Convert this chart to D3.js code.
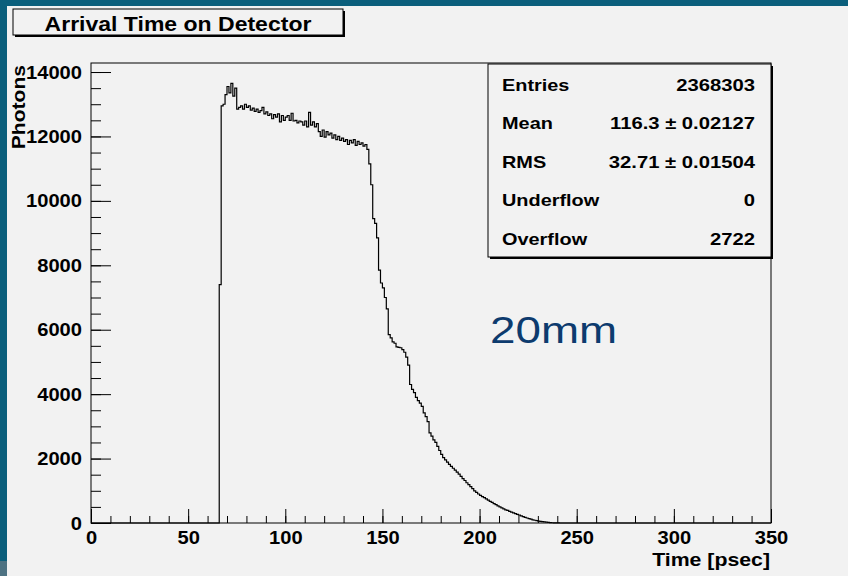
<!DOCTYPE html>
<html>
<head>
<meta charset="utf-8">
<script src="https://cdn.jsdelivr.net/npm/d3@7/dist/d3.min.js"></script>
<style>
  body { margin: 0; background: #0b5f7c; }
  svg { display: block; }
</style>
</head>
<body>
<svg id="chart" width="848" height="576"></svg>
<script>
// histogram contents, 1 psec bins (bins before firstBin are empty)
var firstBin = 66;
var counts = [
  7400, 12950, 13000, 13300, 13550, 13350, 13650, 13250, 13500, 12850,
  12900, 12950, 12850, 13000, 12900, 12950, 12820, 12880, 12780, 12850,
  12750, 12800, 12900, 12700, 12760, 12650, 12700, 12550, 12680, 12600,
  12700, 12450, 12650, 12500, 12600, 12650, 12500, 12720, 12480, 12500,
  12420, 12480, 12450, 12350, 12480, 12300, 12750, 12350, 12450, 12300,
  12400, 12150, 12000, 12200, 11980, 12150, 12050, 12100, 11950, 12050,
  11900, 12000, 11880, 11950, 11850, 11900, 11750, 11880, 11800, 11900,
  11720, 11850, 11750, 11800, 11700, 11750, 11600,
  11150, 10500, 9450, 9300, 8850, 7850, 7450, 7300, 7000, 6650,
  5850, 5750, 5620, 5580, 5470, 5450, 5440, 5380, 5300, 5150,
  4900, 4300, 4150, 4050, 3900, 3800, 3720, 3620, 3420, 3300,
  3150, 2800, 2700, 2580, 2500, 2380, 2250, 2130, 2030, 1960,
  1890, 1820, 1760, 1700, 1640, 1580, 1520, 1450, 1380, 1320,
  1250, 1190, 1130, 1070, 1000, 950, 900, 860, 820, 790,
  750, 710, 670, 640, 600, 570, 530, 500, 470, 440,
  410, 390, 360, 340, 315, 290, 270, 245, 220, 200,
  175, 155, 135, 120, 100, 85, 72, 60, 50, 40,
  32, 25, 18, 12, 8, 5, 3, 2
];
var nBins = 350;
var xTicks = [0, 50, 100, 150, 200, 250, 300, 350];
var yTicks = [0, 2000, 4000, 6000, 8000, 10000, 12000, 14000];
var statLabels = ["Entries", "Mean", "RMS", "Underflow", "Overflow"];
var statValues = ["2368303", "116.3 \u00b1 0.02127", "32.71 \u00b1 0.01504", "0", "2722"];

var panel = "#f2f2f2";
var font = "'Liberation Sans', Arial, sans-serif";

var svg = d3.select("#chart");

// stretch text a bit wider, the picture's font is wider than Liberation
function stretch(sel, k) {
  sel.each(function () {
    var w = this.getComputedTextLength();
    d3.select(this).attr("textLength", w * k).attr("lengthAdjust", "spacingAndGlyphs");
  });
}

// canvas
svg.append("rect").attr("x", 7).attr("y", 6).attr("width", 841).attr("height", 570).attr("fill", panel);
svg.append("rect").attr("x", 0).attr("y", 561).attr("width", 7).attr("height", 15).attr("fill", "#4d7282");

var frame = { left: 91, right: 771, top: 63, bottom: 523 };

var x = d3.scaleLinear().domain([0, nBins]).range([frame.left, frame.right]);
var y = d3.scaleLinear().domain([0, 14280]).range([frame.bottom, frame.top]);

// bins
var bins = d3.range(0, nBins).map(function (i) {
  var v = counts[i - firstBin];
  return { x0: i, n: v === undefined ? 0 : v };
});
bins.push({ x0: nBins, n: bins[nBins - 1].n });

// minor ticks
svg.append("g")
  .attr("transform", "translate(0," + frame.bottom + ")")
  .call(d3.axisBottom(x).tickValues(d3.range(0, 351, 10)).tickSize(-7).tickSizeOuter(0).tickFormat(""))
  .call(function (g) { g.select(".domain").remove(); });
svg.append("g")
  .attr("transform", "translate(" + frame.left + ",0)")
  .call(d3.axisLeft(y).tickValues(d3.range(0, 14001, 500)).tickSize(-10).tickSizeOuter(0).tickFormat(""))
  .call(function (g) { g.select(".domain").remove(); });

// major ticks + labels
svg.append("g")
  .attr("transform", "translate(0," + frame.bottom + ")")
  .call(d3.axisBottom(x).tickValues(xTicks).tickSize(-14).tickSizeOuter(0).tickPadding(8))
  .call(function (g) { g.select(".domain").remove(); });
svg.append("g")
  .attr("transform", "translate(" + frame.left + ",0)")
  .call(d3.axisLeft(y).tickValues(yTicks).tickSize(-20).tickSizeOuter(0).tickPadding(9).tickFormat(d3.format("d")))
  .call(function (g) { g.select(".domain").remove(); });

svg.selectAll(".tick line").attr("stroke", "#000");
svg.selectAll(".tick text")
  .attr("font-family", font)
  .attr("font-weight", "bold")
  .attr("font-size", 19)
  .attr("fill", "#000");
stretch(svg.selectAll(".tick text"), 1.06);

// frame
svg.append("rect")
  .attr("x", frame.left).attr("y", frame.top)
  .attr("width", frame.right - frame.left).attr("height", frame.bottom - frame.top)
  .attr("fill", "none").attr("stroke", "#000").attr("stroke-width", 1);

// histogram outline
var line = d3.line()
  .curve(d3.curveStepAfter)
  .x(function (d) { return x(d.x0); })
  .y(function (d) { return y(d.n); });

svg.append("path")
  .datum(bins)
  .attr("d", line)
  .attr("fill", "none")
  .attr("stroke", "#000")
  .attr("stroke-width", 1.2);

// axis titles
var xt = svg.append("text")
  .attr("x", 770).attr("y", 566)
  .attr("text-anchor", "end")
  .attr("font-family", font).attr("font-weight", "bold").attr("font-size", 18.5)
  .text("Time [psec]");
stretch(xt, 1.15);

var yt = svg.append("text")
  .attr("transform", "translate(25,65) rotate(-90)")
  .attr("text-anchor", "end")
  .attr("font-family", font).attr("font-weight", "bold").attr("font-size", 18)
  .text("Photons");
stretch(yt, 1.17);

// title box
svg.append("rect").attr("x", 15).attr("y", 11).attr("width", 330).attr("height", 26).attr("fill", "#000");
svg.append("rect").attr("x", 13).attr("y", 9).attr("width", 330).attr("height", 26)
  .attr("fill", panel).attr("stroke", "#000").attr("stroke-width", 1);
var tt = svg.append("text")
  .attr("x", 178).attr("y", 30.5)
  .attr("text-anchor", "middle")
  .attr("font-family", font).attr("font-weight", "bold").attr("font-size", 19.5)
  .text("Arrival Time on Detector");
stretch(tt, 1.18);

// stats box
var box = { x: 488, y: 64, w: 283, h: 193 };
svg.append("rect").attr("x", box.x + 2).attr("y", box.y + 2).attr("width", box.w).attr("height", box.h).attr("fill", "#000");
svg.append("rect").attr("x", box.x).attr("y", box.y).attr("width", box.w).attr("height", box.h)
  .attr("fill", panel).attr("stroke", "#000").attr("stroke-width", 1);

var rowY = d3.scalePoint().domain(statLabels).range([90.5, 245]);

var sl = svg.append("g").selectAll("text")
  .data(statLabels)
  .enter()
  .append("text")
  .attr("x", 502)
  .attr("y", function (d) { return rowY(d); })
  .attr("font-family", font).attr("font-weight", "bold").attr("font-size", 17)
  .text(function (d) { return d; });
stretch(sl, 1.17);

var sv = svg.append("g").selectAll("text")
  .data(statValues)
  .enter()
  .append("text")
  .attr("x", 755)
  .attr("y", function (d, i) { return rowY(statLabels[i]); })
  .attr("text-anchor", "end")
  .attr("font-family", font).attr("font-weight", "bold").attr("font-size", 17)
  .text(function (d) { return d; });
stretch(sv, 1.19);

// thickness label
var lab = svg.append("text")
  .attr("x", 490).attr("y", 343)
  .attr("font-family", font).attr("font-size", 37.5)
  .attr("fill", "#0d3b6e")
  .text("20mm");
stretch(lab, 1.22);
</script>
</body>
</html>
